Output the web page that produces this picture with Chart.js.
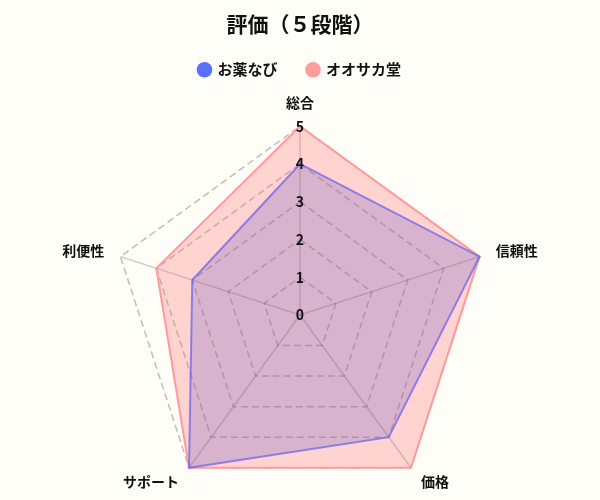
<!DOCTYPE html>
<html lang="ja">
<head>
<meta charset="utf-8">
<script src="https://cdn.jsdelivr.net/npm/chart.js@4"></script>
<style>
  html, body { margin: 0; padding: 0; background: #fffdf8; overflow: hidden; }
  /* 下の余白を削るため、キャンバスを画面より少し高くする */
  #wrap { width: 600px; height: 521px; }
</style>
</head>
<body>
<div id="wrap"><canvas id="radar"></canvas></div>
<script>
// 評価項目
const labels = ['総合', '信頼性', '価格', 'サポート', '利便性'];
// 各サイトの評価（5段階）
const okusuriValues = [4, 5, 4, 5, 3];
const osakadoValues = [5, 5, 5, 5, 4];
const seriesNames = ['お薬なび', 'オオサカ堂'];
// 目盛り（0 も中心に表示する）
const tickValues = [0, 1, 2, 3, 4, 5];
const legendColors = ['#5872ff', '#ff9c9c'];

const fontFamily = '"Noto Sans CJK JP", "Noto Sans", sans-serif';

// 凡例とグラフの間隔を調整する
const legendGap = {
    id: 'legendGap',
    beforeInit(chart) {
        const fit = chart.legend.fit;
        chart.legend.fit = function () {
            fit.bind(chart.legend)();
            this.height += 8;
        };
    }
};

new Chart(document.getElementById('radar'), {
    type: 'radar',
    data: {
        labels: labels,
        datasets: [
            {
                label: seriesNames[0],
                data: okusuriValues,
                backgroundColor: 'rgba(100, 80, 200, 0.25)',
                borderColor: 'rgba(110, 100, 235, 0.75)',
                borderWidth: 2,
                pointRadius: 0
            },
            {
                label: seriesNames[1],
                data: osakadoValues,
                backgroundColor: 'rgba(255, 99, 99, 0.27)',
                borderColor: '#ff9a9a',
                borderWidth: 2,
                pointRadius: 0
            }
        ]
    },
    plugins: [legendGap],
    options: {
        responsive: true,
        maintainAspectRatio: false,
        animation: false,
        plugins: {
            title: {
                display: true,
                text: '評価（５段階）',
                color: '#111',
                font: { family: fontFamily, size: 21, weight: 'bold' },
                padding: { top: 11, bottom: -4 }
            },
            legend: {
                labels: {
                    usePointStyle: true,
                    pointStyle: 'circle',
                    boxWidth: 11,
                    boxHeight: 11,
                    padding: 30,
                    color: '#111',
                    font: { family: fontFamily, size: 15, weight: 'bold' },
                    generateLabels: chart => chart.data.datasets.map((ds, i) => ({
                        text: ds.label,
                        fillStyle: legendColors[i],
                        strokeStyle: legendColors[i],
                        lineWidth: 0,
                        pointStyle: 'circle',
                        datasetIndex: i,
                        hidden: !chart.isDatasetVisible(i),
                        fontColor: '#111'
                    }))
                }
            },
            tooltip: { enabled: false }
        },
        scales: {
            r: {
                min: 0,
                max: 5,
                // 先頭の目盛りは描かれないので 0 を重ねておく
                afterBuildTicks: scale => {
                    scale.ticks = [0, ...tickValues].map(v => ({ value: v }));
                },
                ticks: {
                    stepSize: 1,
                    showLabelBackdrop: false,
                    color: '#111',
                    z: 1,
                    font: { family: fontFamily, size: 14, weight: 'bold' }
                },
                grid: {
                    color: 'rgba(0, 0, 0, 0.25)',
                    lineWidth: 1.5
                },
                border: { dash: [7, 4] },
                angleLines: {
                    color: 'rgba(0, 0, 0, 0.2)',
                    lineWidth: 1.5
                },
                pointLabels: {
                    color: '#111',
                    // 上のラベルだけ少し離す
                    padding: ctx => (ctx.index === 0 ? 14 : 8),
                    font: { family: fontFamily, size: 14, weight: 'bold', lineHeight: '1px' }
                }
            }
        }
    }
});
</script>
</body>
</html>
